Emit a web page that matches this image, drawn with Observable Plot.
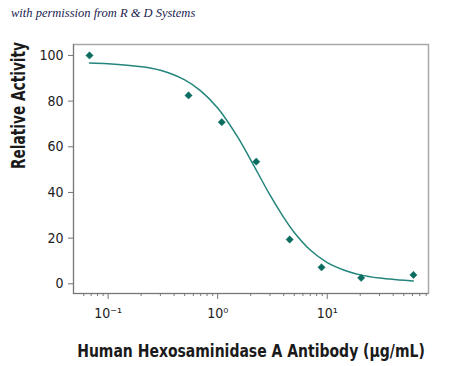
<!DOCTYPE html>
<html>
<head>
<meta charset="utf-8">
<script src="https://cdn.jsdelivr.net/npm/d3@7"></script>
<script src="https://cdn.jsdelivr.net/npm/@observablehq/plot@0.6"></script>
<style>
  html, body { margin: 0; padding: 0; background: #fff; }
  #wrap { position: relative; width: 450px; height: 366px; }
  #credit { position: absolute; left: 11px; top: 6px; font-family: "Liberation Serif", "DejaVu Serif", serif; font-style: italic; font-size: 12.5px; color: #1c2350; white-space: nowrap; }
</style>
</head>
<body>
<div id="wrap">
  <div id="credit">with permission from R &amp; D Systems</div>
</div>
<script>
// Measured points
const concentration = [0.0676, 0.542, 1.09, 2.25, 4.54, 8.87, 20.4, 61.2];
const activity = [100, 82.5, 70.8, 53.5, 19.4, 7.2, 2.6, 3.9];

// Fitted curve
const curveX = [0.0676, 0.1, 0.2, 0.3, 0.5, 0.7, 1.0, 1.5, 2.0, 3.0, 4.0, 5.0, 7.0, 10, 15, 20, 30, 45, 61];
const curveY = [96.7, 96.4, 95.1, 93.5, 89.3, 84.5, 77.0, 64.8, 54.3, 38.9, 29.1, 22.5, 14.8, 9.3, 5.6, 3.9, 2.5, 1.7, 1.2];

const majorTicks = [0.1, 1, 10];
const majorLabels = ["10\u207B\u00B9", "10\u2070", "10\u00B9"];
const minorTicks = [0.06, 0.07, 0.08, 0.09, 0.2, 0.3, 0.4, 0.5, 0.6, 0.7, 0.8, 0.9, 2, 3, 4, 5, 6, 7, 8, 9, 20, 30, 40, 50, 60, 70, 80];
const yTicks = [0, 20, 40, 60, 80, 100];

const xDomain = [0.0483, 84];
const yDomain = [-4.25, 104.8];

const yLabel = "Relative Activity";
const xLabel = "Human Hexosaminidase A Antibody (\u03BCg/mL)";

const tickFont = "'Liberation Sans Narrow', 'DejaVu Sans Condensed', 'Roboto', sans-serif";

const curveData = curveX.map((x, i) => ({x, y: curveY[i]}));
const pointData = concentration.map((x, i) => ({x, y: activity[i]}));

const chart = Plot.plot({
  width: 450,
  height: 366,
  marginLeft: 73,
  marginRight: 22,
  marginTop: 44,
  marginBottom: 73,
  style: {fontFamily: tickFont, background: "transparent", color: "#222"},
  x: {type: "log", domain: xDomain},
  y: {domain: yDomain},
  marks: [
    Plot.frame({stroke: "#a8a8a8", strokeWidth: 1.5}),
    Plot.ruleX([xDomain[0]], {stroke: "#777", strokeWidth: 1}),
    Plot.ruleY([yDomain[0]], {stroke: "#777", strokeWidth: 1}),
    Plot.axisY({ticks: yTicks, tickSize: 5, tickPadding: 5, fontSize: 14, label: null, stroke: "#777", fill: "#222"}),
    Plot.axisX({ticks: majorTicks, tickSize: 6, tickPadding: 9, fontSize: 14, label: null, stroke: "#777", fill: "#222",
      tickFormat: (d) => majorLabels[majorTicks.indexOf(d)]}),
    Plot.axisX({ticks: minorTicks, tickSize: 3, tickFormat: () => "", label: null, stroke: "#777"}),
    Plot.line(curveData, {x: "x", y: "y", curve: "catmull-rom", stroke: "#23857b", strokeWidth: 1.5}),
    Plot.dot(pointData, {x: "x", y: "y", symbol: "square", r: 2.9, rotate: 45, fill: "#0b6c60", stroke: "#0b6c60", strokeWidth: 0.5}),
    Plot.text([yLabel], {frameAnchor: "left", dx: -55, rotate: -90, fontSize: 19.5, fontWeight: "bold", fill: "#1a1a1a", className: "ylab"}),
    Plot.text([xLabel], {frameAnchor: "bottom", dy: 63, lineAnchor: "bottom", fontSize: 18.5, fontWeight: "bold", fill: "#1a1a1a", className: "xlab"})
  ]
});

document.getElementById("wrap").prepend(chart);
chart.style.position = "absolute";
chart.style.left = "0";
chart.style.top = "0";
document.getElementById("credit").style.zIndex = 2;

// squeeze labels horizontally (condensed look) to the reference widths
function squeeze(sel, target) {
  d3.select(chart).selectAll(sel).each(function () {
    const w = this.getComputedTextLength();
    if (!w) return;
    const t = this.getAttribute("transform") || "";
    this.setAttribute("transform", (t + " scale(" + (target / w) + ",1)").trim());
  });
}
squeeze(".ylab text", 127);
squeeze(".xlab text", 348);
</script>
</body>
</html>
